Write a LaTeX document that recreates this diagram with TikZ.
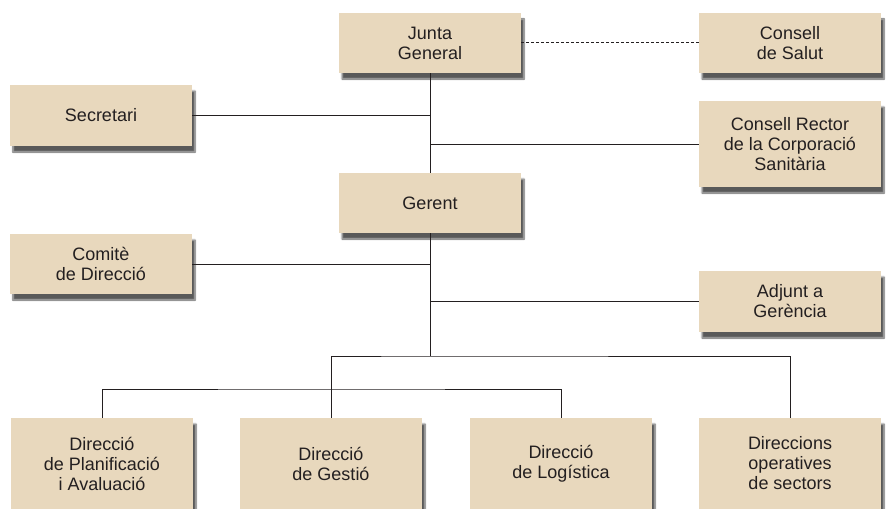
\documentclass[tikz,border=0pt]{standalone}
\usepackage{fontspec}
\newfontfamily\orgfont{Liberation Sans}
\usepackage{tikz}
\usetikzlibrary{positioning, shadows.blur}
\definecolor{boxfill}{HTML}{E8D8BD}
\definecolor{inkcol}{HTML}{231F20}
\tikzset{
  unit/.style={rectangle, fill=boxfill, text=inkcol, align=center,
    minimum width=182pt, minimum height=60pt, inner sep=2pt,
    font=\orgfont\fontsize{18}{20}\selectfont,
    blur shadow={shadow xshift=3pt, shadow yshift=-6pt, shadow blur steps=7, shadow opacity=65}},
  tall/.style={unit, minimum height=86pt},
  low/.style={unit, minimum height=91pt},
  link/.style={draw=inkcol, line width=1pt}
}
\begin{document}
\begin{tikzpicture}[x=1pt, y=-1pt]
    \useasboundingbox (0,0) rectangle (890,508);
    \node[unit] (junta) at (430,43) {Junta\\General};
    \node[unit] (salut) at (790,43) {Consell\\de Salut};
    \node[unit, minimum height=61pt] (secr) at (101,115.5) {Secretari};
    \node[tall] (rector) at (790,144) {Consell Rector\\de la Corporació\\Sanitària};
    \node[unit] (gerent) at (430,203) {Gerent};
    \node[unit] (comite) at (101,264) {Comitè\\de Direcció};
    \node[unit, minimum height=61pt] (adjunt) at (790,301.5) {Adjunt a\\Gerència};
    % bottom row runs off the page
    \node[low] (d1) at (102,463.5) {Direcció\\de Planificació\\i Avaluació};
    \node[low] (d2) at (331,463.5) {Direcció\\de Gestió};
    \node[low] (d3) at (561,463.5) {Direcció\\de Logística};
    \node[low] (d4) at (790,463.5) {Direccions\\operatives\\de sectors};
    \coordinate (bus) at (430,356);
    \coordinate (sub) at (331,389);
    \draw[link]
    (junta) -- (gerent)
    (secr.east) -- (secr.east -| junta.south)
    (rector.west) -- (rector.west -| junta.south)
    (comite.east) -- (comite.east -| gerent.south)
    (adjunt.west) -- (adjunt.west -| gerent.south)
    (gerent.south) -- (bus)
    (d2.north) |- (bus) -| (d4.north)
    (d1.north) |- (sub) -| (d3.north);
    \draw[link, dash pattern=on 3pt off 2pt] (junta) -- (salut);
    \end{tikzpicture}
\end{document}
